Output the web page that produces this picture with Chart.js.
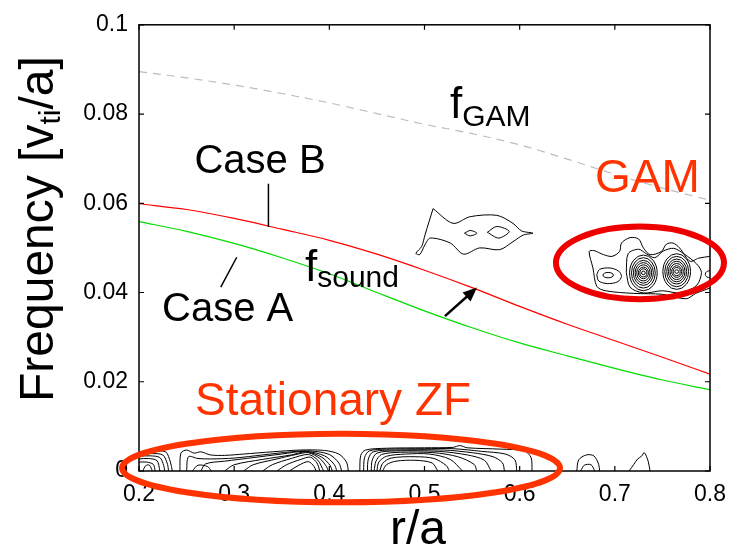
<!DOCTYPE html>
<html>
<head>
<meta charset="utf-8">
<script src="https://cdn.jsdelivr.net/npm/chart.js@4.4.1/dist/chart.umd.min.js"></script>
<style>
  html, body { margin: 0; padding: 0; background: #ffffff; }
  canvas { display: block; }
</style>
</head>
<body>
<canvas id="freqChart" width="738" height="548"></canvas>
<script>
// radial positions used by the three frequency curves
const rValues = [0.2, 0.25, 0.3, 0.35, 0.4, 0.45, 0.5, 0.55, 0.6, 0.65, 0.7, 0.75, 0.8];
const fGam = [0.0895, 0.0881, 0.0865, 0.0846, 0.0825, 0.0801, 0.0777, 0.0756, 0.0731, 0.0699, 0.0665, 0.0634, 0.0607];
const fSoundB = [0.0599, 0.0586, 0.0566, 0.0542, 0.0517, 0.0486, 0.0450, 0.0411, 0.0369, 0.0329, 0.0292, 0.0255, 0.0217];
const fSoundA = [0.0559, 0.0537, 0.0510, 0.0478, 0.0442, 0.0400, 0.0359, 0.0321, 0.0287, 0.0258, 0.0230, 0.0204, 0.0182];

const xTickLabels = ["0.2", "0.3", "0.4", "0.5", "0.6", "0.7", "0.8"];
const yTickLabels = ["0", "0.02", "0.04", "0.06", "0.08", "0.1"];

// contour lines of the spectrum, [r/a, frequency] pairs
const zfContours = [
  [[0.2, 0.0043], [0.215, 0.0044], [0.228, 0.0043], [0.233, 0.002], [0.235, 0]],
  [[0.2, 0.0038], [0.214, 0.0039], [0.225, 0.0036], [0.23, 0.0015], [0.231, 0]],
  [[0.2, 0.0033], [0.212, 0.0034], [0.222, 0.003], [0.226, 0.0012], [0.227, 0]],
  [[0.2, 0.0027], [0.21, 0.0028], [0.219, 0.0023], [0.222, 0]],
  [[0.2, 0.002], [0.208, 0.002], [0.215, 0.0015], [0.217, 0]],
  [[0.204, 0], [0.207, 0.0012], [0.211, 0.0013], [0.214, 0]],
  [[0.243, 0], [0.244, 0.004], [0.25, 0.0047], [0.258, 0.004], [0.265, 0.0043], [0.275, 0.0036], [0.29, 0.0035], [0.31, 0.0038], [0.34, 0.0043], [0.37, 0.0047], [0.395, 0.0046], [0.41, 0.0038], [0.418, 0.002], [0.42, 0]],
  [[0.25, 0], [0.252, 0.0032], [0.262, 0.0028], [0.275, 0.0027], [0.3, 0.0029], [0.33, 0.0036], [0.36, 0.0043], [0.38, 0.0045], [0.4, 0.0037], [0.41, 0.0018], [0.413, 0]],
  [[0.265, 0], [0.27, 0.0016], [0.29, 0.0022], [0.32, 0.003], [0.35, 0.0038], [0.375, 0.0044], [0.395, 0.0034], [0.405, 0.0015], [0.408, 0]],
  [[0.29, 0], [0.3, 0.0014], [0.33, 0.0026], [0.36, 0.0036], [0.376, 0.0043], [0.392, 0.0031], [0.401, 0.0012], [0.403, 0]],
  [[0.31, 0], [0.32, 0.0014], [0.345, 0.0027], [0.365, 0.0037], [0.378, 0.0041], [0.39, 0.0028], [0.397, 0.001], [0.399, 0]],
  [[0.33, 0], [0.34, 0.0014], [0.36, 0.0028], [0.378, 0.0037], [0.388, 0.0024], [0.394, 0]],
  [[0.345, 0], [0.355, 0.0014], [0.37, 0.0026], [0.38, 0.0031], [0.387, 0.0018], [0.39, 0]],
  [[0.358, 0], [0.368, 0.0013], [0.378, 0.0021], [0.384, 0.001], [0.386, 0]],
  [[0.256, 0], [0.262, 0.0013], [0.272, 0.001], [0.276, 0]],
  [[0.432, 0], [0.433, 0.0035], [0.438, 0.0047], [0.46, 0.0051], [0.5, 0.0052], [0.53, 0.0053], [0.537, 0.0057], [0.545, 0.0052], [0.58, 0.0049], [0.605, 0.0045], [0.612, 0.003], [0.613, 0]],
  [[0.436, 0], [0.437, 0.003], [0.442, 0.0045], [0.46, 0.0049], [0.5, 0.005], [0.53, 0.005], [0.56, 0.0044], [0.585, 0.0038], [0.595, 0.0025], [0.597, 0]],
  [[0.44, 0], [0.441, 0.0027], [0.446, 0.0043], [0.47, 0.0047], [0.52, 0.0047], [0.55, 0.0041], [0.572, 0.0032], [0.582, 0.0018], [0.584, 0]],
  [[0.444, 0], [0.445, 0.0024], [0.45, 0.004], [0.47, 0.0045], [0.515, 0.0044], [0.545, 0.0036], [0.563, 0.0024], [0.57, 0]],
  [[0.447, 0], [0.449, 0.0022], [0.455, 0.0037], [0.475, 0.0042], [0.51, 0.0041], [0.535, 0.0032], [0.552, 0.0015], [0.555, 0]],
  [[0.45, 0], [0.452, 0.002], [0.46, 0.0033], [0.48, 0.0038], [0.505, 0.0038], [0.527, 0.0026], [0.54, 0]],
  [[0.453, 0], [0.456, 0.0017], [0.465, 0.0029], [0.49, 0.0032], [0.51, 0.0028], [0.523, 0.0012], [0.526, 0]],
  [[0.456, 0], [0.46, 0.0014], [0.47, 0.0022], [0.49, 0.0024], [0.508, 0.0018], [0.514, 0]],
  [[0.66, 0], [0.662, 0.0025], [0.67, 0.0036], [0.678, 0.0034], [0.683, 0.0015], [0.684, 0]],
  [[0.664, 0], [0.668, 0.0013], [0.675, 0.0014], [0.679, 0]],
  [[0.715, 0], [0.72, 0.0015], [0.724, 0.0027], [0.728, 0.0033], [0.731, 0.0041], [0.735, 0.0022], [0.737, 0]]
];

const midContours = [
  [[0.509, 0.0588], [0.530, 0.0555], [0.548, 0.0570], [0.576, 0.0573], [0.593, 0.0555], [0.602, 0.0538], [0.614, 0.0533], [0.604, 0.0529], [0.593, 0.0514], [0.579, 0.0496], [0.558, 0.0500], [0.541, 0.0486], [0.527, 0.0511], [0.506, 0.0522], [0.5005, 0.0507], [0.495, 0.0485], [0.491, 0.0488], [0.497, 0.0503], [0.5005, 0.0529], [0.509, 0.0588]],
  [[0.542, 0.0533], [0.548, 0.0539], [0.555, 0.0533], [0.548, 0.0527], [0.542, 0.0533]],
  [[0.566, 0.0535], [0.576, 0.0548], [0.589, 0.0537], [0.578, 0.0522], [0.566, 0.0535]]
];

const gamContours = [
  [[0.8, 0.041], [0.785, 0.0398], [0.775, 0.0386], [0.75, 0.0396], [0.72, 0.0398], [0.69, 0.0404], [0.681, 0.0414], [0.677, 0.0455], [0.673, 0.0492], [0.678, 0.0494], [0.688, 0.0485], [0.697, 0.0481], [0.705, 0.0492], [0.707, 0.0511], [0.716, 0.0523], [0.725, 0.052], [0.73, 0.05], [0.737, 0.0485], [0.749, 0.0492], [0.754, 0.0508], [0.761, 0.0511], [0.768, 0.05], [0.779, 0.047], [0.788, 0.0477], [0.8, 0.0481]],
  [[0.681, 0.044], [0.684, 0.0452], [0.695, 0.0455], [0.704, 0.0448], [0.707, 0.0436], [0.703, 0.0424], [0.692, 0.042], [0.683, 0.0426], [0.681, 0.044]],
  [[0.712, 0.0445], [0.714, 0.0487], [0.725, 0.0497], [0.733, 0.0487], [0.742, 0.0478], [0.751, 0.0493], [0.762, 0.0499], [0.773, 0.0486], [0.786, 0.0464], [0.791, 0.0445], [0.786, 0.0416], [0.77, 0.0399], [0.75, 0.0404], [0.73, 0.0399], [0.716, 0.0412], [0.712, 0.0445]]
];

// nested rings round the two GAM peaks
const gamPeakR = [0.730, 0.765];
const gamPeakF = [0.0444, 0.0447];
const ringHalfR = [0.0145, 0.0125, 0.0105, 0.0087, 0.007, 0.0053, 0.0037, 0.002];
const ringHalfF = [0.0040, 0.0034, 0.0028, 0.0023, 0.0018, 0.0013, 0.0009, 0.0004];
const smallLoops = [[0.693, 0.0439, 0.0055, 0.0006], [0.8, 0.0441, 0.005, 0.0008]];

const fontFamily = "\"Liberation Sans\", Arial, sans-serif";
const redText = "#ff3300";

const lineSet = (points, color, width) => ({
  data: points.map(([x, y]) => ({ x, y })),
  showLine: true,
  borderColor: color,
  borderWidth: width,
  pointRadius: 0,
  tension: 0.3,
  fill: false
});

const curve = (values, color) => ({
  data: rValues.map((r, i) => ({ x: r, y: values[i] })),
  showLine: true,
  borderColor: color,
  borderWidth: 1.2,
  pointRadius: 0,
  cubicInterpolationMode: "monotone",
  fill: false
});

const datasets = [
  Object.assign(curve(fGam, "#bdbdbd"), { borderDash: [8, 6], borderWidth: 1.2 }),
  curve(fSoundB, "#ff0000"),
  curve(fSoundA, "#00dd00"),
  ...zfContours.map((c) => lineSet(c, "#000000", 1)),
  ...midContours.map((c) => lineSet(c, "#000000", 1)),
  ...gamContours.map((c) => lineSet(c, "#000000", 1))
];

function drawSub(ctx, x, y, main, sub, mainSize, subSize, drop, color) {
  ctx.fillStyle = color;
  ctx.textAlign = "left";
  ctx.textBaseline = "alphabetic";
  ctx.font = `${mainSize}px ${fontFamily}`;
  ctx.fillText(main, x, y);
  const w = ctx.measureText(main).width;
  ctx.font = `${subSize}px ${fontFamily}`;
  ctx.fillText(sub, x + w, y + drop);
}

const overlay = {
  id: "overlay",
  afterDatasetsDraw(chart) {
    const { ctx, chartArea: a, scales: { x, y } } = chart;
    ctx.save();
    ctx.beginPath();
    ctx.rect(a.left, a.top, a.width, a.height);
    ctx.clip();
    ctx.strokeStyle = "#000";
    ctx.lineWidth = 1;
    const ring = (r, f, hr, hf) => {
      const cx = x.getPixelForValue(r);
      const cy = y.getPixelForValue(f);
      ctx.beginPath();
      ctx.ellipse(cx, cy, Math.abs(x.getPixelForValue(r + hr) - cx), Math.abs(y.getPixelForValue(f + hf) - cy), 0, 0, Math.PI * 2);
      ctx.stroke();
    };
    gamPeakR.forEach((r, i) => ringHalfR.forEach((hr, j) => ring(r, gamPeakF[i], hr, ringHalfF[j])));
    smallLoops.forEach((l) => ring(l[0], l[1], l[2], l[3]));
    ctx.restore();
  },
  afterDraw(chart) {
    const { ctx, chartArea: a, scales: { x, y } } = chart;
    const px = (r) => x.getPixelForValue(r);
    const py = (f) => y.getPixelForValue(f);
    ctx.save();

    // frame and inward ticks
    ctx.strokeStyle = "#000";
    ctx.lineWidth = 1.5;
    ctx.strokeRect(a.left, a.top, a.width, a.height);
    ctx.lineWidth = 1.2;
    ctx.beginPath();
    x.ticks.forEach((t) => {
      const p = px(t.value);
      ctx.moveTo(p, a.bottom); ctx.lineTo(p, a.bottom - 5);
      ctx.moveTo(p, a.top); ctx.lineTo(p, a.top + 5);
    });
    y.ticks.forEach((t) => {
      const p = py(t.value);
      ctx.moveTo(a.left, p); ctx.lineTo(a.left + 5, p);
      ctx.moveTo(a.right, p); ctx.lineTo(a.right - 5, p);
    });
    ctx.stroke();

    // pointer lines for the two cases
    ctx.lineWidth = 1.5;
    ctx.beginPath();
    ctx.moveTo(px(0.336), py(0.0644)); ctx.lineTo(px(0.336), py(0.0547));
    ctx.moveTo(px(0.3027), py(0.0479)); ctx.lineTo(px(0.2859), py(0.0412));
    ctx.stroke();

    // arrow towards the red curve
    const x0 = px(0.5215), y0 = py(0.0347), x1 = px(0.5552), y1 = py(0.0411);
    const ang = Math.atan2(y1 - y0, x1 - x0);
    ctx.lineWidth = 2.5;
    ctx.beginPath();
    ctx.moveTo(x0, y0);
    ctx.lineTo(x1 - 10 * Math.cos(ang), y1 - 10 * Math.sin(ang));
    ctx.stroke();
    ctx.fillStyle = "#000";
    ctx.beginPath();
    ctx.moveTo(x1, y1);
    ctx.lineTo(x1 - 14 * Math.cos(ang) + 6 * Math.sin(ang), y1 - 14 * Math.sin(ang) - 6 * Math.cos(ang));
    ctx.lineTo(x1 - 14 * Math.cos(ang) - 6 * Math.sin(ang), y1 - 14 * Math.sin(ang) + 6 * Math.cos(ang));
    ctx.closePath();
    ctx.fill();

    // highlight ellipses
    ctx.lineWidth = 6;
    ctx.strokeStyle = "#ee0000";
    ctx.beginPath();
    ctx.ellipse(px(0.7264), py(0.04665), px(0.7264 + 0.0883) - px(0.7264), py(0) - py(0.00815), 0, 0, Math.PI * 2);
    ctx.stroke();
    ctx.strokeStyle = redText;
    ctx.beginPath();
    ctx.ellipse(px(0.4123), py(0.00067), px(0.4123 + 0.2301) - px(0.4123), py(0) - py(0.0077), 0, 0, Math.PI * 2);
    ctx.stroke();

    // labels
    ctx.fillStyle = "#000";
    ctx.textBaseline = "alphabetic";
    ctx.font = `40px ${fontFamily}`;
    ctx.textAlign = "center";
    ctx.fillText("Case B", 260, 173);
    ctx.textAlign = "left";
    ctx.fillText("Case A", 162, 321);
    drawSub(ctx, 305, 281, "f", "sound", 44, 30, 6, "#000");
    drawSub(ctx, 450, 118, "f", "GAM", 44, 30, 8, "#000");

    ctx.fillStyle = redText;
    ctx.font = `46px ${fontFamily}`;
    ctx.textAlign = "left";
    ctx.fillText("GAM", 595, 192);
    ctx.fillText("Stationary ZF", 195, 415);

    // axis titles
    ctx.fillStyle = "#000";
    ctx.font = `48px ${fontFamily}`;
    ctx.textAlign = "center";
    ctx.fillText("r/a", 418, 544);

    ctx.save();
    ctx.translate(53, 402);
    ctx.rotate(-Math.PI / 2);
    ctx.textAlign = "left";
    ctx.font = `48px ${fontFamily}`;
    ctx.fillText("Frequency [v", 0, 0);
    let w = ctx.measureText("Frequency [v").width;
    ctx.font = `30px ${fontFamily}`;
    ctx.fillText("ti", w, 7);
    w += ctx.measureText("ti").width;
    ctx.font = `48px ${fontFamily}`;
    ctx.fillText("/a]", w, 0);
    ctx.restore();

    ctx.restore();
  }
};

new Chart(document.getElementById("freqChart"), {
  type: "scatter",
  data: { datasets },
  plugins: [overlay],
  options: {
    responsive: false,
    animation: false,
    events: [],
    layout: { padding: { top: 22, right: 28, left: 0, bottom: 0 } },
    plugins: {
      legend: { display: false },
      tooltip: { enabled: false }
    },
    scales: {
      x: {
        type: "linear",
        min: 0.2,
        max: 0.8,
        grid: { display: false, drawTicks: false },
        border: { display: false },
        ticks: {
          stepSize: 0.1,
          padding: 10,
          color: "#000",
          autoSkip: false,
          maxRotation: 0,
          font: { size: 23, family: fontFamily },
          callback: (value, index) => xTickLabels[index]
        },
        afterFit(scale) { scale.height = 77; }
      },
      y: {
        type: "linear",
        min: 0,
        max: 0.1,
        grid: { display: false, drawTicks: false },
        border: { display: false },
        ticks: {
          stepSize: 0.02,
          padding: 11,
          color: "#000",
          autoSkip: false,
          font: { size: 23, family: fontFamily },
          callback: (value, index) => yTickLabels[index]
        },
        afterFit(scale) { scale.width = 139; }
      }
    }
  }
});
</script>
</body>
</html>
